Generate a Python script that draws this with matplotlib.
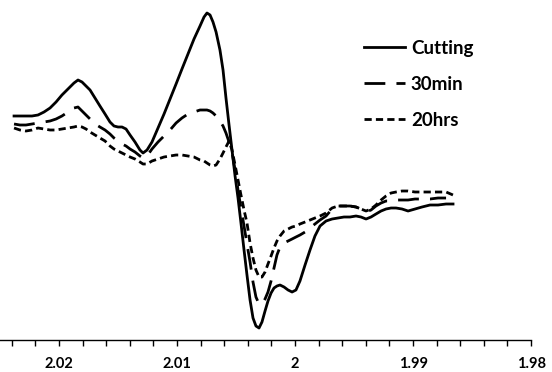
import numpy as np
import matplotlib
matplotlib.use("Agg")
import matplotlib.pyplot as plt
from matplotlib.ticker import MultipleLocator

# g-value axis (shared by all three spectra)
g = [2.02381, 2.02331, 2.02280, 2.02229, 2.02178, 2.02127, 2.02076, 2.02025, 2.01975, 2.01924,
     2.01873, 2.01839, 2.01805, 2.01771, 2.01737, 2.01695, 2.01653, 2.01610, 2.01568, 2.01534,
     2.01500, 2.01466, 2.01432, 2.01398, 2.01356, 2.01314, 2.01288, 2.01254, 2.01212, 2.01161,
     2.01110, 2.01059, 2.01008, 2.00958, 2.00907, 2.00856, 2.00805, 2.00771, 2.00746, 2.00720,
     2.00695, 2.00669, 2.00636, 2.00610, 2.00585, 2.00559, 2.00534, 2.00508, 2.00483, 2.00458,
     2.00432, 2.00407, 2.00381, 2.00356, 2.00331, 2.00305, 2.00280, 2.00254, 2.00229, 2.00203,
     2.00178, 2.00153, 2.00127, 2.00093, 2.00059, 2.00025, 1.99992, 1.99958, 1.99915, 1.99873,
     1.99831, 1.99788, 1.99737, 1.99686, 1.99636, 1.99585, 1.99534, 1.99483, 1.99441, 1.99398,
     1.99356, 1.99314, 1.99271, 1.99229, 1.99186, 1.99144, 1.99093, 1.99042, 1.98983, 1.98924,
     1.98856, 1.98788, 1.98720, 1.98661]

# EPR signal, arbitrary units
cutting = [99, 99, 99, 99, 100, 103, 107, 113, 120, 126,
           132, 135, 133, 129, 125, 117, 109, 101, 93, 89,
           88, 88, 86, 80, 73, 65, 62, 65, 73, 87,
           101, 116, 131, 146, 161, 176, 189, 198, 202, 200,
           193, 183, 165, 145, 117, 90, 65, 39, 17, -8,
           -35, -60, -85, -103, -111, -113, -107, -96, -86, -78,
           -73, -71, -70, -72, -75, -77, -75, -66, -50, -35,
           -21, -11, -6, -4, -3, -2, -2, -1, -2, -4,
           -2, 1, 4, 6, 7, 7, 6, 4, 6, 8,
           10, 10, 11, 11]

min30 = [91, 90, 90, 91, 92, 93, 94, 96, 99, 103,
         107, 108, 104, 100, 96, 91, 88, 85, 81, 77,
         74, 71, 69, 66, 63, 59, 57, 59, 66, 73,
         79, 85, 92, 97, 101, 103, 105, 105, 105, 104,
         102, 99, 94, 89, 82, 73, 63, 45, 25, 7,
         -11, -29, -47, -67, -82, -89, -89, -84, -77, -66,
         -53, -40, -32, -28, -26, -24, -22, -20, -17, -13,
         -9, -5, -1, 6, 9, 9, 9, 8, 6, 3,
         5, 9, 12, 14, 14, 15, 15, 15, 16, 16,
         16, 17, 17, np.nan]

hrs20 = [87, 85, 84, 85, 87, 86, 85, 85, 86, 87,
         88, 89, 88, 86, 83, 80, 77, 74, 69, 66,
         64, 62, 60, 58, 56, 53, 51, 51, 54, 56,
         58, 59, 60, 60, 59, 58, 55, 54, 52, 50,
         49, 50, 56, 62, 68, 74, 65, 50, 35, 20,
         5, -8, -28, -43, -55, -62, -62, -57, -49, -41,
         -33, -26, -21, -16, -14, -12, -11, -9, -7, -5,
         -3, -1, 2, 7, 9, 9, 9, 8, 6, 4,
         6, 10, 15, 19, 22, 23, 24, 24, 23, 23,
         23, 23, 23, 20]

labels = ["Cutting", "30min", "20hrs"]

fig = plt.figure(figsize=(5.52, 3.72), dpi=100)
ax = fig.add_axes([0.0, 0.086, 0.962, 0.914])

lw = 2.0
ax.plot(g, cutting, color="black", lw=lw, label=labels[0])
ax.plot(g, min30, color="black", lw=lw, dashes=(7.5, 4), label=labels[1])
ax.plot(g, hrs20, color="black", lw=lw, dashes=(2.6, 1.5), label=labels[2])

ax.set_xlim(2.025, 1.98)
ax.set_ylim(-125, 215)

for s in ["left", "top", "right"]:
    ax.spines[s].set_visible(False)
ax.spines["bottom"].set_linewidth(1.0)
ax.set_yticks([])

ax.xaxis.set_minor_locator(MultipleLocator(0.002))
ax.set_xticks([2.02, 2.01, 2.0, 1.99, 1.98])
ax.set_xticklabels(["2.02", "2.01", "2", "1.99", "1.98"])
ax.tick_params(axis="x", which="both", direction="out", length=4, width=1.0, pad=8)
for t in ax.get_xticklabels():
    t.set_fontfamily("Lato")
    t.set_fontweight("bold")
    t.set_fontsize(10.5)

leg = ax.legend(loc="upper left", bbox_to_anchor=(364 / 552, 1 - 40 / 372),
                bbox_transform=fig.transFigure, frameon=False,
                prop={"family": "Lato", "weight": "bold", "size": 13.5},
                handlelength=2.2, handletextpad=0.3, labelspacing=1.0,
                borderpad=0, borderaxespad=0)

fig.savefig("out.png", dpi=100)
